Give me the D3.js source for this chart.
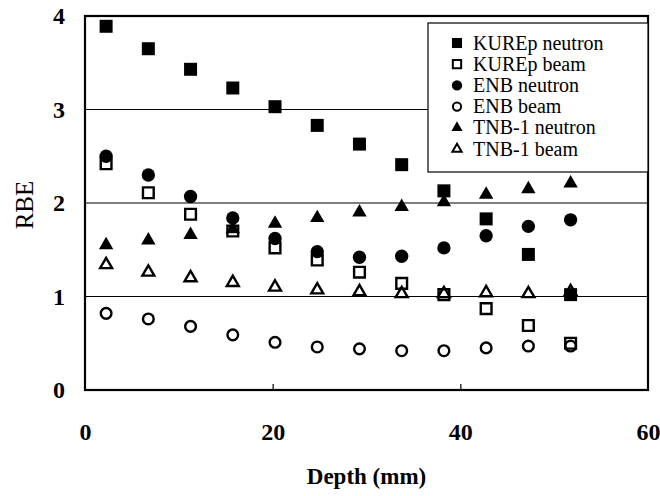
<!DOCTYPE html>
<html lang="en">
<head>
    <meta charset="UTF-8">
    <title>RBE vs Depth</title>
    <script src="https://d3js.org/d3.v7.min.js"></script>
    <style>
        body { margin: 0; background: #fff; }
        svg text { font-family: "Liberation Serif", "DejaVu Serif", serif !important; fill: #000; }
    </style>
</head>
<body>
    <div id="chart"></div>

    <script>
        // Data
        const depth = [2.25, 6.75, 11.25, 15.75, 20.25, 24.75, 29.25, 33.75, 38.25, 42.75, 47.25, 51.75];
        const kurepNeutron = [3.89, 3.65, 3.43, 3.23, 3.03, 2.83, 2.63, 2.41, 2.13, 1.83, 1.45, 1.02];
        const kurepBeam = [2.42, 2.11, 1.88, 1.70, 1.52, 1.39, 1.26, 1.14, 1.02, 0.87, 0.69, 0.50];
        const enbNeutron = [2.50, 2.30, 2.07, 1.84, 1.62, 1.48, 1.42, 1.43, 1.52, 1.65, 1.75, 1.82];
        const enbBeam = [0.82, 0.76, 0.68, 0.59, 0.51, 0.46, 0.44, 0.42, 0.42, 0.45, 0.47, 0.47];
        const tnbNeutron = [1.55, 1.60, 1.66, 1.72, 1.78, 1.84, 1.90, 1.96, 2.01, 2.09, 2.15, 2.21];
        const tnbBeam = [1.34, 1.26, 1.20, 1.15, 1.10, 1.07, 1.05, 1.03, 1.03, 1.04, 1.03, 1.05];

        const xTicks = [0, 20, 40, 60];
        const yTicks = [0, 1, 2, 3, 4];

        const series = [
            { name: 'KUREp neutron', values: kurepNeutron, shape: 'square', filled: true },
            { name: 'KUREp beam', values: kurepBeam, shape: 'square', filled: false },
            { name: 'ENB neutron', values: enbNeutron, shape: 'circle', filled: true },
            { name: 'ENB beam', values: enbBeam, shape: 'circle', filled: false },
            { name: 'TNB-1 neutron', values: tnbNeutron, shape: 'triangle', filled: true },
            { name: 'TNB-1 beam', values: tnbBeam, shape: 'triangle', filled: false }
        ];

        const W = 660, H = 496;
        const margin = { top: 16, right: 12, bottom: 106, left: 85 };
        const width = W - margin.left - margin.right;
        const height = H - margin.top - margin.bottom;
        const serif = '"Liberation Serif", "DejaVu Serif", serif';

        const svg = d3.select('#chart').append('svg')
            .attr('width', W)
            .attr('height', H);

        const g = svg.append('g')
            .attr('transform', `translate(${margin.left},${margin.top})`);

        const x = d3.scaleLinear().domain([0, 60]).range([0, width]);
        const y = d3.scaleLinear().domain([0, 4]).range([height, 0]);

        // gridlines at 1, 2, 3
        g.selectAll('.grid')
            .data(yTicks.filter(d => d > 0 && d < 4))
            .enter().append('line')
            .attr('x1', 0).attr('x2', width)
            .attr('y1', d => y(d)).attr('y2', d => y(d))
            .attr('stroke', '#000')
            .attr('stroke-width', 1.1);

        // axes (ticks inside)
        const xAxis = g.append('g')
            .attr('transform', `translate(0,${height})`)
            .call(d3.axisBottom(x).tickValues(xTicks).tickFormat(d3.format('d'))
                .tickSizeInner(-6).tickSizeOuter(0).tickPadding(33));
        const yAxis = g.append('g')
            .call(d3.axisLeft(y).tickValues(yTicks).tickFormat(d3.format('d'))
                .tickSizeInner(0).tickSizeOuter(0).tickPadding(20));

        [xAxis, yAxis].forEach(a => {
            a.attr('font-family', serif);
            a.select('.domain').remove();
            a.selectAll('line').attr('stroke', '#000').attr('stroke-width', 1.2);
            a.selectAll('text')
                .style('font-family', serif)
                .style('font-size', '24px')
                .style('font-weight', 'bold');
        });
        xAxis.selectAll('.tick').filter(d => d === 0 || d === 60).select('line').remove();

        // plot frame
        g.append('rect')
            .attr('x', 0).attr('y', 0)
            .attr('width', width).attr('height', height)
            .attr('fill', 'none')
            .attr('stroke', '#000')
            .attr('stroke-width', 2.2);

        // symbol helper
        function symbolPath(shape, filled, scale) {
            const sizes = filled
                ? { square: 169, circle: 140, triangle: 90 }
                : { square: 115, circle: 90, triangle: 62 };
            const type = shape === 'square' ? d3.symbolSquare
                : shape === 'circle' ? d3.symbolCircle : d3.symbolTriangle;
            return d3.symbol().type(type).size(sizes[shape] * scale)();
        }

        series.forEach(s => {
            g.append('g')
                .selectAll('path')
                .data(s.values.map((v, i) => ({ x: depth[i], y: v })))
                .enter().append('path')
                .attr('transform', d => `translate(${x(d.x)},${y(d.y)})`)
                .attr('d', symbolPath(s.shape, s.filled, 1))
                .attr('fill', s.filled ? '#000' : 'none')
                .attr('stroke', '#000')
                .attr('stroke-width', s.filled ? 0 : 2.4);
        });

        // legend
        const lg = g.append('g').attr('transform', `translate(${width - 220},${7})`);
        lg.append('rect')
            .attr('width', 220).attr('height', 149)
            .attr('fill', '#fff')
            .attr('stroke', '#000')
            .attr('stroke-width', 1.2);

        series.forEach((s, i) => {
            const row = lg.append('g').attr('transform', `translate(0,${20 + i * 21.2})`);
            row.append('path')
                .attr('transform', 'translate(29,0)')
                .attr('d', symbolPath(s.shape, s.filled, 0.6))
                .attr('fill', s.filled ? '#000' : 'none')
                .attr('stroke', '#000')
                .attr('stroke-width', s.filled ? 0 : 2);
            row.append('text')
                .attr('x', 45)
                .attr('dy', '0.33em')
                .style('font-family', serif)
                .style('font-size', '20px')
                .text(s.name);
        });

        // axis titles
        svg.append('text')
            .attr('x', margin.left + width / 2)
            .attr('y', 484)
            .attr('text-anchor', 'middle')
            .style('font-family', serif)
            .style('font-size', '23px')
            .style('font-weight', 'bold')
            .text('Depth (mm)');

        svg.append('text')
            .attr('transform', `translate(33,205) rotate(-90)`)
            .attr('text-anchor', 'middle')
            .style('font-family', serif)
            .style('font-size', '25px')
            .text('RBE');
    </script>
</body>
</html>
